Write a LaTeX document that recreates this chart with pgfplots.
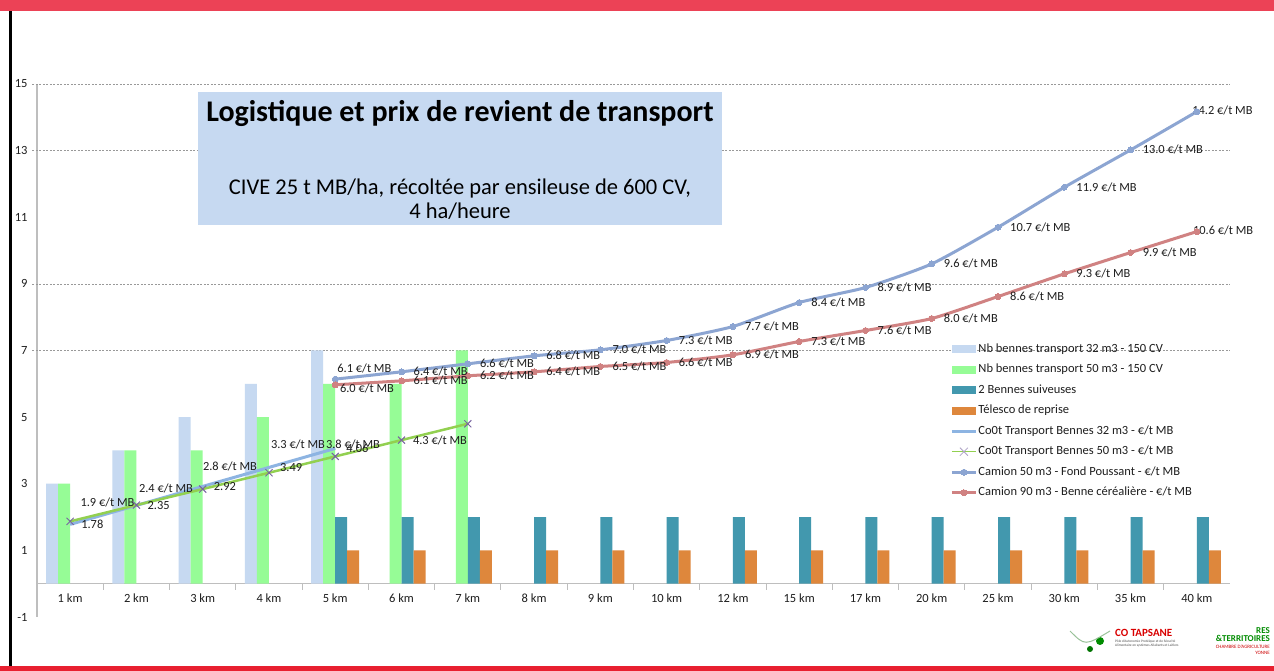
\documentclass[border=0pt]{standalone}
\usepackage{fontspec}
\setmainfont{Carlito}
\usepackage{pgfplots}
\pgfplotsset{compat=1.18}
\definecolor{lb}{RGB}{198,217,241}
\definecolor{gr}{RGB}{150,252,150}
\definecolor{teal2}{RGB}{66,152,174}
\definecolor{orng}{RGB}{222,135,60}
\definecolor{c32}{RGB}{141,180,226}
\definecolor{c50}{RGB}{146,208,80}
\definecolor{xmark}{RGB}{120,100,160}
\definecolor{cam50}{RGB}{140,165,210}
\definecolor{cam90}{RGB}{208,130,130}
\definecolor{topred}{RGB}{236,66,86}
\definecolor{botred}{RGB}{232,32,48}
\definecolor{axgray}{RGB}{190,190,190}
\definecolor{txt}{RGB}{30,30,30}
\newcommand{\lab}{\fontsize{12.4}{14}\selectfont}
\pgfplotsset{
  barleg/.style={legend image code/.code={\fill[##1] (0pt,-4pt) rectangle (24pt,4pt);}},
  plainleg/.style={legend image code/.code={\draw[##1] (0pt,0pt) -- (24pt,0pt);}},
  lineleg/.style={legend image code/.code={\draw[##1, mark repeat=2, mark phase=2] plot coordinates {(0pt,0pt)(12pt,0pt)(24pt,0pt)};}},
  greenleg/.style={legend image code/.code={\draw[c50, line width=1pt] (0pt,0pt) -- (24pt,0pt); \draw[xmark!60, line width=0.8pt] (8pt,-4pt) -- (16pt,4pt) (8pt,4pt) -- (16pt,-4pt);}},
}
\begin{document}
\begin{tikzpicture}
\path[use as bounding box, fill=white] (0pt,0pt) rectangle (1274pt,671pt);
\fill[topred] (0pt,660pt) rectangle (1274pt,671pt);
\fill[botred] (0pt,0pt) rectangle (1274pt,5pt);
\fill[black] (9pt,5pt) rectangle (12pt,660pt);
\begin{axis}[
  at={(37pt,54pt)}, anchor=south west, scale only axis,
  width=1193pt, height=533pt,
  xmin=-0.5, xmax=17.5, ymin=-1, ymax=15,
  clip=false,
  axis x line*=middle, axis y line*=left,
  x axis line style={draw=axgray, line width=1pt, -},
  y axis line style={draw=axgray, line width=1.5pt, -},
  xtick={0,...,17},
  xticklabels={1 km,2 km,3 km,4 km,5 km,6 km,7 km,8 km,9 km,10 km,12 km,15 km,17 km,20 km,25 km,30 km,35 km,40 km},
  ytick={-1,1,...,15},
  major tick length=0pt,
  /pgf/number format/assume math mode=true,
  tick label style={font=\fontsize{12.5}{14}\selectfont, text=txt},
  xticklabel style={yshift=-7pt},
  yticklabel style={xshift=-6pt},
  legend cell align=left,
  legend style={at={(0.7655,0.515)}, anchor=north west, draw=none, fill=none,
    font=\fontsize{12.5}{14}\selectfont, text=txt, row sep=7.5pt, inner sep=0pt,
    nodes={inner sep=1pt, text height=8.5pt, text depth=2.5pt},
    /tikz/every even column/.append style={column sep=0pt}},
]
% grid lines (visible ones)
\pgfplotsinvokeforeach{7,9,13,15}{
  \draw[gray!80, line width=0.7pt, dash pattern=on 2pt off 1.5pt] (axis cs:-0.57,#1) -- (axis cs:17.5,#1);
}
\pgfplotsinvokeforeach{0.5,1.5,...,16.5}{
  \draw[axgray, line width=1pt] (axis cs:#1,0) -- ++(0pt,-6pt);
}
% bars
\addplot[ybar, bar width=12pt, bar shift=-18pt, fill=lb, draw=none, barleg]
  coordinates {(0,3)(1,4)(2,5)(3,6)(4,7)};
\addlegendentry{Nb bennes transport 32 m3 - 150 CV}
\addplot[ybar, bar width=12pt, bar shift=-6pt, fill=gr, draw=none, barleg]
  coordinates {(0,3)(1,4)(2,4)(3,5)(4,6)(5,6)(6,7)};
\addlegendentry{Nb bennes transport 50 m3 - 150 CV}
\addplot[ybar, bar width=12pt, bar shift=6pt, fill=teal2, draw=none, barleg]
  coordinates {(4,2)(5,2)(6,2)(7,2)(8,2)(9,2)(10,2)(11,2)(12,2)(13,2)(14,2)(15,2)(16,2)(17,2)};
\addlegendentry{2 Bennes suiveuses}
\addplot[ybar, bar width=12pt, bar shift=18pt, fill=orng, draw=none, barleg]
  coordinates {(4,1)(5,1)(6,1)(7,1)(8,1)(9,1)(10,1)(11,1)(12,1)(13,1)(14,1)(15,1)(16,1)(17,1)};
\addlegendentry{Télesco de reprise}
% lines
\addplot[c32, line width=3pt, mark=none, plainleg]
  coordinates {(0,1.78)(1,2.35)(2,2.92)(3,3.49)(4,4.06)};
\addlegendentry{Co0t Transport Bennes 32 m3 - €/t MB}
\addplot[c50, line width=2.5pt, mark=x, mark size=5pt, mark options={draw=xmark, line width=1pt}, greenleg]
  coordinates {(0,1.87)(1,2.36)(2,2.84)(3,3.33)(4,3.82)(5,4.31)(6,4.80)};
\addlegendentry{Co0t Transport Bennes 50 m3 - €/t MB}
\addplot[cam50, line width=3pt, smooth, tension=0.35, mark=*, mark size=3pt, mark options={fill=cam50, draw=cam50, line width=0pt}, lineleg]
  coordinates {(4,6.14)(5,6.36)(6,6.6)(7,6.84)(8,7.02)(9,7.3)(10,7.72)(11,8.44)(12,8.89)(13,9.6)(14,10.7)(15,11.9)(16,13.02)(17,14.17)};
\addlegendentry{Camion 50 m3 - Fond Poussant - €/t MB}
\addplot[cam90, line width=3pt, smooth, tension=0.35, mark=*, mark size=3pt, mark options={fill=cam90, draw=cam90, line width=0pt}, lineleg]
  coordinates {(4,5.97)(5,6.09)(6,6.24)(7,6.36)(8,6.52)(9,6.64)(10,6.87)(11,7.27)(12,7.6)(13,7.96)(14,8.62)(15,9.3)(16,9.94)(17,10.57)};
\addlegendentry{Camion 90 m3 - Benne céréalière - €/t MB}
% data labels
\addplot[draw=none, mark=none, forget plot, point meta=y,
  nodes near coords={\pgfmathprintnumber[fixed,precision=2,fixed zerofill]{\pgfplotspointmeta}},
  every node near coord/.append style={anchor=west, xshift=11pt, inner sep=0pt, font=\lab, text=txt}]
  coordinates {(0,1.78)(1,2.35)(2,2.92)(3,3.49)(4,4.06)};
\addplot[draw=none, mark=none, forget plot, point meta=y,
  nodes near coords={\pgfmathprintnumber[fixed,precision=1,fixed zerofill]{\pgfplotspointmeta}~€/t~MB},
  every node near coord/.append style={anchor=west, xshift=12pt, inner sep=0pt, font=\lab, text=txt}]
  coordinates {(5,6.36)(6,6.6)(7,6.84)(8,7.02)(9,7.3)(10,7.72)(11,8.44)(12,8.89)(13,9.6)(14,10.7)(15,11.9)(16,13.02)};
\addplot[draw=none, mark=none, forget plot, point meta=y,
  nodes near coords={\pgfmathprintnumber[fixed,precision=1,fixed zerofill]{\pgfplotspointmeta}~€/t~MB},
  every node near coord/.append style={anchor=west, xshift=12pt, inner sep=0pt, font=\lab, text=txt}]
  coordinates {(5,6.09)(6,6.24)(7,6.36)(8,6.52)(9,6.64)(10,6.87)(11,7.27)(12,7.6)(13,7.96)(14,8.62)(15,9.3)(16,9.94)};
\node[anchor=west, inner sep=0pt, font=\lab, text=txt] at (axis cs:4.03,6.45) {6.1~€/t~MB};
\node[anchor=west, inner sep=0pt, font=\lab, text=txt] at (axis cs:4.07,5.85) {6.0~€/t~MB};
\node[anchor=west, inner sep=0pt, font=\lab, text=txt] at (axis cs:16.93,14.2) {14.2~€/t~MB};
\node[anchor=west, inner sep=0pt, font=\lab, text=txt] at (axis cs:16.94,10.6) {10.6~€/t~MB};
\node[inner sep=0pt, font=\lab, text=txt] at (axis cs:0.564,2.43) {1.9~€/t~MB};
\node[inner sep=0pt, font=\lab, text=txt] at (axis cs:1.446,2.85) {2.4~€/t~MB};
\node[inner sep=0pt, font=\lab, text=txt] at (axis cs:2.412,3.51) {2.8~€/t~MB};
\node[inner sep=0pt, font=\lab, text=txt] at (axis cs:3.438,4.17) {3.3~€/t~MB};
\node[inner sep=0pt, font=\lab, text=txt] at (axis cs:4.268,4.17) {3.8~€/t~MB};
\node[inner sep=0pt, font=\lab, text=txt] at (axis cs:5.58,4.29) {4.3~€/t~MB};
\end{axis}
% title box
\fill[lb] (198pt,579pt) rectangle (722pt,446pt);
\node[font=\fontsize{30}{34}\bfseries\selectfont, text=black] at (460pt,557pt) {Logistique et prix de revient de transport};
\node[font=\fontsize{22.5}{24}\selectfont, align=center, text=black] at (460pt,472pt) {CIVE 25 t MB/ha, récoltée par ensileuse de 600 CV,\\4 ha/heure};
% logos (approximation)
\node[anchor=east, font=\fontsize{9}{10}\bfseries\selectfont, text=green!55!black, inner sep=0pt] at (1270pt,40pt) {RES};
\node[anchor=east, font=\fontsize{9}{10}\bfseries\selectfont, text=green!55!black, inner sep=0pt] at (1270pt,33pt) {\&TERRITOIRES};
\node[anchor=east, font=\fontsize{5}{6}\selectfont, text=red!80!black, inner sep=0pt] at (1270pt,24pt) {CHAMBRE D'AGRICULTURE};
\node[anchor=east, font=\fontsize{5}{6}\selectfont, text=red!80!black, inner sep=0pt] at (1270pt,18pt) {YONNE};
\node[anchor=west, font=\fontsize{11}{12}\bfseries\selectfont, text=red!85!black, inner sep=0pt] at (1115pt,38pt) {CO TAPSANE};
\node[anchor=west, font=\fontsize{3.5}{4}\selectfont, text=black!70, inner sep=0pt, align=left] at (1115pt,27pt) {Pôle d'Autonomie Protéique et de Sécurité\\Alimentaire en systèmes Allaitants et Laitiers};
\fill[green!55!black] (1100pt,30pt) circle (4pt);
\fill[green!45!black] (1090pt,22pt) circle (3pt);
\draw[green!40!black!40, line width=1pt] (1070pt,40pt) .. controls (1085pt,25pt) .. (1110pt,40pt);
\end{tikzpicture}
\end{document}
